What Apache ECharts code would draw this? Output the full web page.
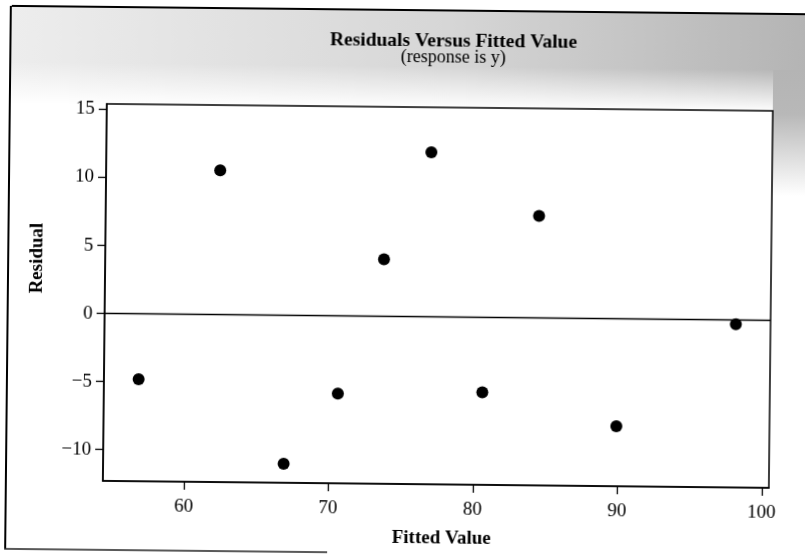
<!DOCTYPE html>
<html>
<head>
<meta charset="utf-8">
<title>Residuals Versus Fitted Value</title>
<script src="https://cdn.jsdelivr.net/npm/echarts@6/dist/echarts.min.js"></script>
<style>
  html, body { margin: 0; padding: 0; background: #fff; }
  #chart { width: 805px; height: 558px; transform: rotate(0.6deg); transform-origin: 50% 50%; }
</style>
</head>
<body>
<div id="chart"></div>
<script>
// Fitted values and their residuals (response is y)
const fittedValues = [56.8, 62.3, 66.9, 70.6, 73.7, 76.9, 80.6, 84.4, 89.9, 98.1];
const residuals    = [-4.8, 10.6, -10.9, -5.7, 4.2, 12.1, -5.5, 7.5, -7.9, -0.3];

// Axis ticks
const xTicks = [60, 70, 80, 90, 100];
const yTicks = [-10, -5, 0, 5, 10, 15];

const FONT = 'Liberation Serif, Times New Roman, serif';

const points = fittedValues.map((v, i) => [v, residuals[i]]);

const chart = echarts.init(document.getElementById('chart'), null, { renderer: 'canvas' });

chart.setOption({
  backgroundColor: '#fff',
  animation: false,
  textStyle: { fontFamily: FONT, color: '#000' },
  title: {
    text: 'Residuals Versus Fitted Value',
    subtext: '(response is y)',
    left: 446,
    top: 26,
    textAlign: 'center',
    itemGap: -3,
    textStyle: { fontFamily: FONT, fontSize: 19.5, fontWeight: 'bold', color: '#000' },
    subtextStyle: { fontFamily: FONT, fontSize: 18, color: '#000' },
    z: 20
  },
  grid: {
    left: 105, right: 34, top: 107, bottom: 74,
    show: true, borderColor: '#000', borderWidth: 1.5, backgroundColor: '#fff'
  },
  xAxis: {
    type: 'value',
    min: 54.4,
    max: 100.5,
    axisLine: { show: true, onZero: false, lineStyle: { color: '#000', width: 1.5 } },
    axisTick: { show: true, customValues: xTicks, length: 8, lineStyle: { color: '#000', width: 1.3 } },
    axisLabel: { customValues: xTicks, margin: 16, fontFamily: FONT, fontSize: 19, color: '#000' },
    splitLine: { show: false }
  },
  yAxis: {
    type: 'value',
    min: -12.3,
    max: 15.4,
    axisLine: { show: true, onZero: false, lineStyle: { color: '#000', width: 1.5 } },
    axisTick: { show: true, customValues: yTicks, length: 8, lineStyle: { color: '#000', width: 1.3 } },
    axisLabel: {
      customValues: yTicks, margin: 12, fontFamily: FONT, fontSize: 19, color: '#000',
      formatter: v => String(v).replace('-', '\u2212')
    },
    splitLine: { show: false }
  },
  graphic: [
    // printed tint behind the heading band, fading out above the plot
    {
      type: 'rect', z: -10, silent: true,
      shape: { x: 9, y: 11, width: 796, height: 96 },
      style: {
        fill: new echarts.graphic.LinearGradient(0, 0, 1, 0, [
          { offset: 0, color: '#ededed' },
          { offset: 0.55, color: '#d6d6d6' },
          { offset: 1, color: '#b4b4b4' }
        ])
      }
    },
    {
      type: 'rect', z: -9, silent: true,
      shape: { x: 9, y: 66, width: 762, height: 42 },
      style: {
        fill: new echarts.graphic.LinearGradient(0, 0, 0, 1, [
          { offset: 0, color: 'rgba(255,255,255,0)' },
          { offset: 1, color: '#ffffff' }
        ])
      }
    },
    // tint running down the right edge
    {
      type: 'rect', z: -9, silent: true,
      shape: { x: 771, y: 66, width: 34, height: 126 },
      style: {
        fill: new echarts.graphic.LinearGradient(0, 0, 0, 1, [
          { offset: 0, color: '#b4b4b4' },
          { offset: 0.35, color: '#b8b8b8' },
          { offset: 1, color: '#ffffff' }
        ])
      }
    },
    // page frame around the figure
    { type: 'line', shape: { x1: 9, y1: 10, x2: 805, y2: 10 }, style: { stroke: '#000', lineWidth: 2 }, z: 10 },
    { type: 'line', shape: { x1: 8, y1: 10, x2: 8, y2: 553 }, style: { stroke: '#000', lineWidth: 2 }, z: 10 },
    { type: 'line', shape: { x1: 7, y1: 553, x2: 330, y2: 553 }, style: { stroke: '#222', lineWidth: 1.5 }, z: 10 },
    // axis titles
    {
      type: 'text', x: 37, y: 262, rotation: Math.PI / 2,
      style: { text: 'Residual', font: 'bold 19px ' + FONT, fill: '#000', align: 'center', verticalAlign: 'middle' }
    },
    {
      type: 'text', x: 444, y: 538,
      style: { text: 'Fitted Value', font: 'bold 19px ' + FONT, fill: '#000', align: 'center', verticalAlign: 'middle' }
    }
  ],
  series: [{
    type: 'scatter',
    data: points,
    symbol: 'circle',
    symbolSize: 12,
    itemStyle: { color: '#000', opacity: 1 },
    markLine: {
      silent: true,
      symbol: 'none',
      label: { show: false },
      lineStyle: { color: '#000', width: 1.3, type: 'solid' },
      data: [{ yAxis: 0 }]
    }
  }]
});
</script>
</body>
</html>
